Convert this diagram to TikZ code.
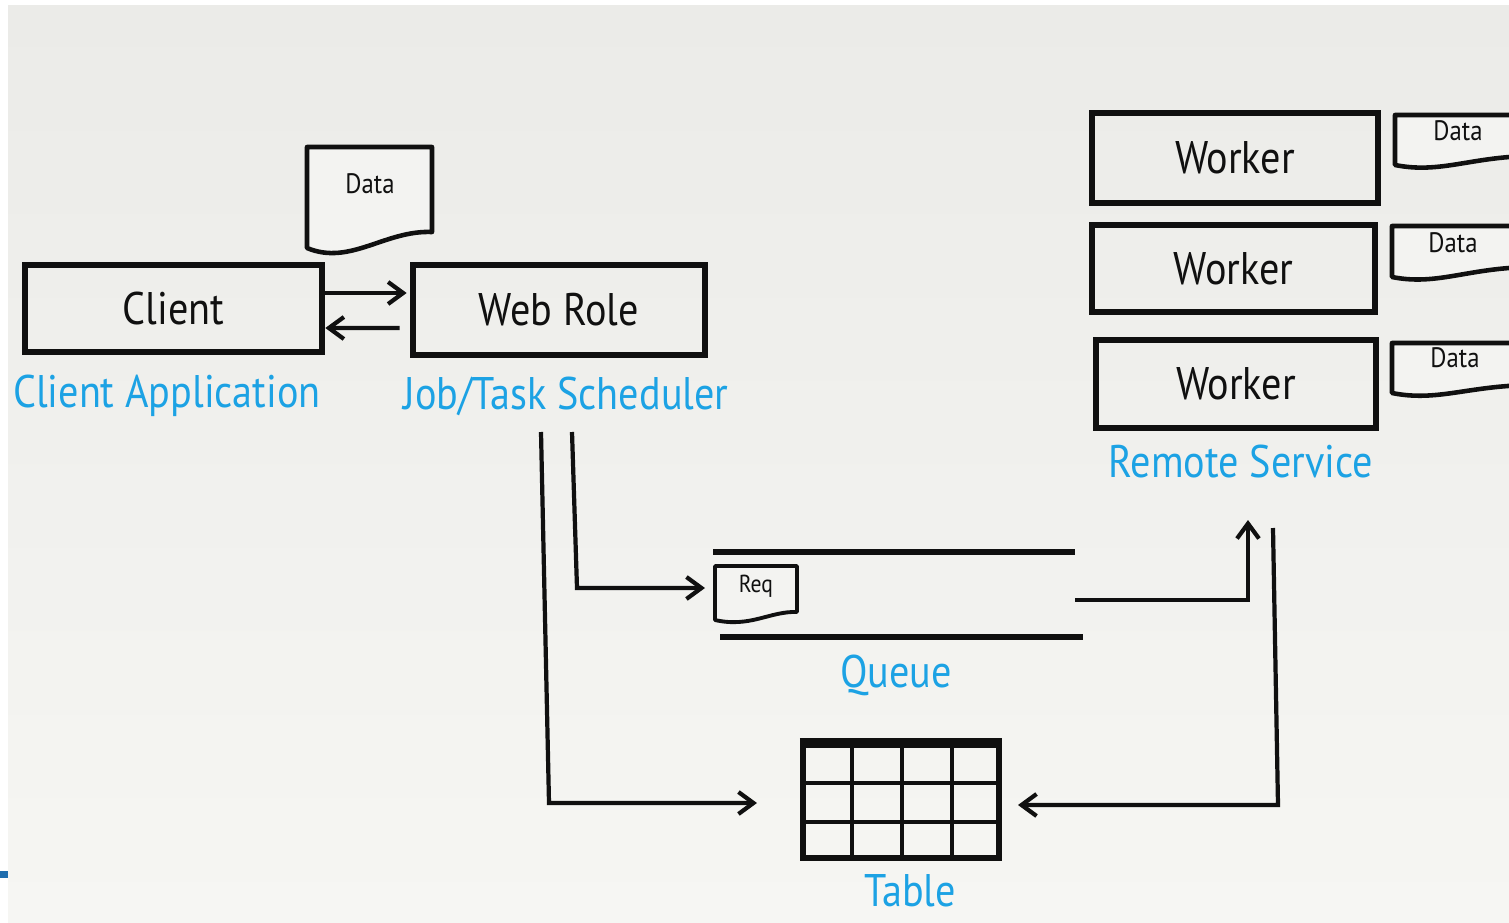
\documentclass[tikz,border=0pt]{standalone}
\usepackage{fontspec}
\setmainfont{PT Sans}
\newfontfamily\hand[FakeStretch=0.88]{PT Sans}
\usetikzlibrary{arrows.meta}

\definecolor{paper}{HTML}{EBEBE8}
\definecolor{paperlow}{HTML}{F6F6F3}
\definecolor{ink}{HTML}{101010}
\definecolor{azure}{HTML}{1CA2E4}
\definecolor{navy}{HTML}{1F6DAE}

\newdimen\pxu
\pxu=0.02cm

\tikzset{
  tip/.style={-{Straight Barb[length=0.3cm,width=0.44cm]}},
  boxnode/.style={draw=ink, line width=3.8pt, inner sep=0pt,
    font=\hand\fontsize{26}{27}\selectfont, text=ink},
  lbl/.style={font=\hand\fontsize{26}{27}\selectfont, text=azure, inner sep=0pt},
  conn/.style={draw=ink, line width=2.4pt, line join=miter},
  qline/.style={draw=ink, line width=3.8pt},
  doc/.style={draw=ink, line width=2.6pt, fill=paper!60!white, line join=round},
  doctext/.style={font=\hand\fontsize{16}{17}\selectfont, text=ink, inner sep=0pt},
  grid/.style={draw=ink, line width=2.8pt},
}

\begin{document}
\begin{tikzpicture}[x=0.02cm, y=-0.02cm]
  % page and paper
  \fill[white] (0,0) rectangle (1509,923);
  \shade[top color=paper, bottom color=paperlow] (8,5) rectangle (1509,923);
  \useasboundingbox (0,0) rectangle (1509,923);
  \fill[navy] (0,871) rectangle (8,878);

  \begin{scope}
  \clip (0,0) rectangle (1509,923);

  % client and web role
  \node[boxnode, minimum width=297\pxu, minimum height=87\pxu] (client) at (173.5,308.5) {Client};
  \node[boxnode, minimum width=292\pxu, minimum height=90\pxu] (webrole) at (559,310) {Web Role};
  \node[lbl] (clientlbl) at (167,396) {Client Application};
  \node[lbl] (schedlbl) at (566,396) {Job/Task Scheduler};

  \draw[conn, tip] ([yshift=15.5\pxu]client.east) -- ([yshift=17\pxu,xshift=-3\pxu]webrole.west);
  \draw[conn, tip] ([yshift=-18\pxu,xshift=-10\pxu]webrole.west) -- ([yshift=-19.5\pxu]client.east);

  % data sheet above the web role
  \draw[doc] (307,147) -- (432,147) -- (432,232)
    .. controls (385,230) and (350,266) .. (307,248) -- cycle;
  \node[doctext] (webdata) at (370,184) {Data};

  % workers
  \node[boxnode, minimum width=286\pxu, minimum height=90\pxu] (w1) at (1235,158) {Worker};
  \node[boxnode, minimum width=283\pxu, minimum height=87\pxu] (w2) at (1233.5,268.5) {Worker};
  \node[boxnode, minimum width=280\pxu, minimum height=88\pxu] (w3) at (1236,384) {Worker};
  \node[lbl] (remotelbl) at (1241,462) {Remote Service};

  % data sheets of the workers
  \draw[doc] (1530,115) -- (1395,115) -- (1395,165)
    .. controls (1440,174) and (1470,157) .. (1530,156);
  \node[doctext] (d1) at (1458,131) {Data};
  \draw[doc] (1530,226) -- (1392,226) -- (1392,277)
    .. controls (1437,286) and (1467,268) .. (1530,267);
  \node[doctext] (d2) at (1453,243) {Data};
  \draw[doc] (1530,343) -- (1392,343) -- (1392,393)
    .. controls (1437,402) and (1467,386) .. (1530,385);
  \node[doctext] (d3) at (1455,358) {Data};

  % queue
  \draw[qline] (713,552) coordinate (qtl) -- (1075,552) coordinate (qtr);
  \draw[qline] (720,637) coordinate (qbl) -- (1083,637) coordinate (qbr);
  \node[lbl] (queuelbl) at (896,675) {Queue};
  \draw[doc, line width=2.2pt] (715,566) -- (797,566) -- (797,612)
    .. controls (770,611) and (750,628) .. (715,620) -- cycle;
  \node[doctext, font=\hand\fontsize{14}{15}\selectfont] (req) at (756,586) {Req};

  % table
  \node[draw=ink, line width=3.6pt, minimum width=196\pxu, minimum height=113\pxu, inner sep=0pt]
    (tbl) at (901,801.5) {};
  \draw[grid] (852,745) -- (852,858) (902,745) -- (902,858) (952,745) -- (952,858)
              (803,783) -- (999,783) (803,822) -- (999,822);
  \draw[ink, line width=4.5pt] (tbl.north west) -- (tbl.north east);
  \node[lbl] (tablelbl) at (910,891) {Table};

  % connectors
  \coordinate (jA) at (541,432);
  \coordinate (jAbend) at (549,803);
  \coordinate (jAend) at (757,803);
  \draw[conn, tip] (jA) -- (jAbend) -- (jAend);

  \coordinate (jB) at (572,432);
  \coordinate (jBbend) at (577,588);
  \coordinate (jBend) at (705,588);
  \draw[conn, tip] (jB) -- (jBbend) -- (jBend);

  \coordinate (qout) at (1075,600);
  \coordinate (qbend) at (1248,600);
  \coordinate (rin) at (1248,520);
  \draw[conn, tip] (qout) -- (qbend) -- (rin);

  \coordinate (rout) at (1273,528);
  \coordinate (rbend) at (1278,805);
  \coordinate (tin) at (1018,805);
  \draw[conn, tip] (rout) -- (rbend) -- (tin);
  \end{scope}
\end{tikzpicture}
\end{document}
